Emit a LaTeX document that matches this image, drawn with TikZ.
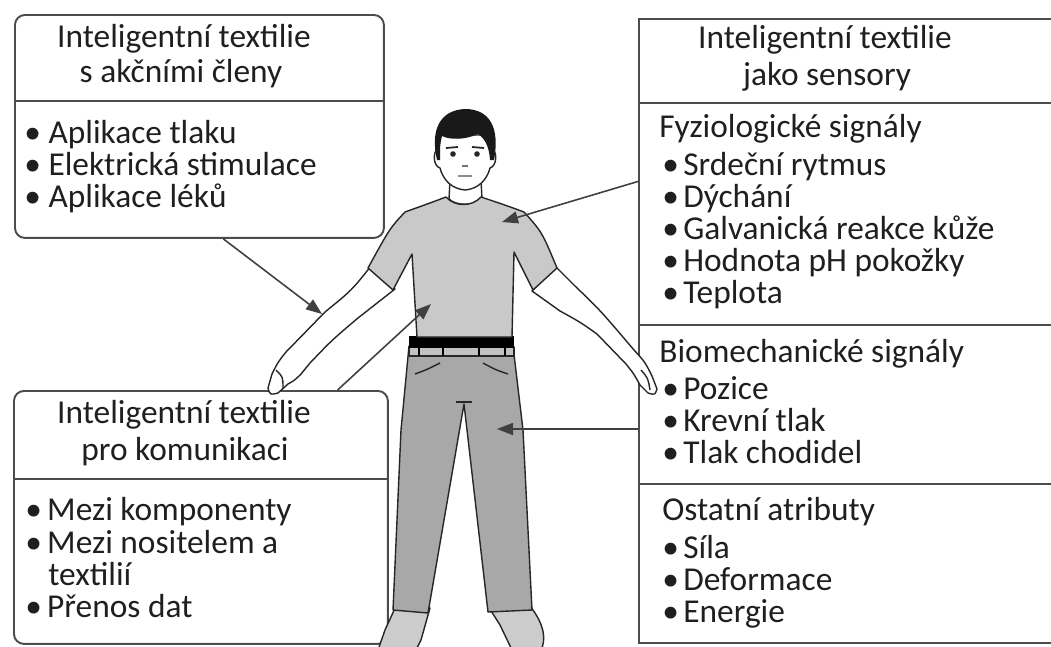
\documentclass[tikz,border=0pt]{standalone}
\usepackage{fontspec}
\setmainfont{Carlito}
\usetikzlibrary{arrows.meta}

\definecolor{shirt}{gray}{0.79}
\definecolor{trousers}{gray}{0.66}
\definecolor{shoe}{gray}{0.80}
\definecolor{ink}{gray}{0.12}

\tikzset{
  panel/.style={draw=black!70, line width=1.1pt, inner sep=0pt},
  rule/.style={draw=black!70, line width=1.1pt},
  title/.style={anchor=base, inner sep=0pt, text=ink, font=\fontsize{19}{22}\selectfont},
  entry/.style={anchor=base west, inner sep=0pt, text=ink, font=\fontsize{19}{22}\selectfont},
  outline/.style={draw=black!85, line width=0.8pt, line join=round},
  pointer/.style={draw=black!75, line width=0.9pt, -{Triangle[length=3.2mm,width=2.4mm]}},
}

\begin{document}
\begin{tikzpicture}[x=0.02cm,y=-0.02cm]
\useasboundingbox (0,0) rectangle (1051,646);

% the three panels
\node[panel, rounded corners=2mm, minimum width=7.38cm, minimum height=4.46cm, anchor=north west] (actbox) at (14,14) {};
\node[panel, rounded corners=2mm, minimum width=7.48cm, minimum height=5.06cm, anchor=north west] (commbox) at (13,390) {};
\node[panel, minimum width=8.5cm, minimum height=12.48cm, anchor=north west] (sensbox) at (638,18) {};
\draw[rule] (actbox.west |- 0,101) -- (actbox.east |- 0,101);
\draw[rule] (commbox.west |- 0,479) -- (commbox.east |- 0,479);
\foreach \y in {103,325,484}
  \draw[rule] (sensbox.west |- 0,\y) -- (sensbox.east |- 0,\y);

% actuators
\node[title] (acttitle1) at (184,47) {Inteligentní textilie};
\node[title] (acttitle2) at (181,82) {s akčními členy};
\foreach \txt [count=\i from 0] in {Aplikace tlaku, Elektrická stimulace, Aplikace léků}
  \node[entry] (act\i) at (24,143+32*\i) {\textbullet\ \txt};

% communication
\node[title] (commtitle1) at (184,423) {Inteligentní textilie};
\node[title] (commtitle2) at (185,460) {pro komunikaci};
\node[entry] (comm0) at (25,520) {\textbullet\hspace{3pt}Mezi komponenty};
\node[entry] (comm1) at (25,553) {\textbullet\hspace{3pt}Mezi nositelem a};
\node[entry] (comm2) at (48,585) {textilií};
\node[entry] (comm3) at (25,617) {\textbullet\hspace{3pt}Přenos dat};

% sensors
\node[title] (senstitle1) at (825,48) {Inteligentní textilie};
\node[title] (senstitle2) at (827,85) {jako sensory};
\node[entry] (physio) at (659,137) {Fyziologické signály};
\foreach \txt [count=\i from 0] in {Srdeční rytmus, Dýchání, Galvanická reakce kůže, Hodnota pH pokožky, Teplota}
  \node[entry] (physio\i) at (662,175+32*\i) {\textbullet\hspace{2.5pt}\txt};
\node[entry] (biomech) at (659,362) {Biomechanické signály};
\foreach \txt [count=\i from 0] in {Pozice, Krevní tlak, Tlak chodidel}
  \node[entry] (biomech\i) at (662,399+32*\i) {\textbullet\hspace{2.5pt}\txt};
\node[entry] (other) at (662,520) {Ostatní atributy};
\foreach \txt [count=\i from 0] in {Síla, Deformace, Energie}
  \node[entry] (other\i) at (662,558+32*\i) {\textbullet\hspace{2.5pt}\txt};

% figure: arms
\filldraw[outline, fill=white] (371,266) .. controls (352,290) .. (325,312) -- (286,352)
  .. controls (278,362) .. (272,374) -- (268,388) .. controls (270,395) .. (278,393)
  -- (288,384) .. controls (295,380) .. (301,374) -- (310,363)
  .. controls (332,340) .. (358,318) -- (395,289) -- cycle;
\draw[outline] (276,370) .. controls (283,377) .. (283,388);
\filldraw[outline, fill=white] (555,266) -- (575,286) .. controls (600,310) .. (634,350)
  .. controls (645,362) .. (652,376) -- (657,389) .. controls (655,395) .. (648,393)
  -- (640,385) .. controls (634,374) .. (626,364) -- (597,334)
  .. controls (580,322) .. (560,311) -- (532,291) -- cycle;
\draw[outline] (641,370) .. controls (648,378) .. (650,390);

% shoes and trousers
\filldraw[outline, fill=shoe] (396,606) -- (430,608) -- (421,640) -- (416,650) -- (378,650) -- (385,630) -- cycle;
\filldraw[outline, fill=shoe] (488,606) -- (530,606) .. controls (545,625) and (546,640) .. (541,650) -- (512,650) -- (500,625) -- cycle;
\filldraw[outline, fill=trousers] (409,346) -- (513,346) -- (523,430) -- (532,610) -- (488,612)
  -- (464,404) -- (428,613) -- (393,610) -- (401,430) -- cycle;
\draw[outline] (456,402) -- (472,402);
\draw[outline] (415,374) .. controls (426,370) .. (440,363);
\draw[outline] (483,363) .. controls (496,370) .. (508,374);
\filldraw[outline, fill=trousers!70] (409,347) rectangle (514,356);
\fill[black] (409,336) rectangle (514,348);
\foreach \x in {419,443,479,505}
  \draw[black, line width=1.3pt] (\x,346) -- (\x,356);

% neck and shirt
\filldraw[outline, fill=white] (450,180) -- (449,199) .. controls (456,206) and (474,206) .. (482,199) -- (481,180);
\filldraw[outline, fill=shirt] (446,197) .. controls (430,203) .. (405,212)
  .. controls (390,228) .. (368,268) -- (393,290) -- (412,254) -- (417,337) -- (512,337)
  -- (514,252) -- (533,290) -- (557,268) .. controls (542,232) .. (524,212)
  .. controls (505,205) .. (481,197) .. controls (472,207) and (455,207) .. cycle;

% head
\filldraw[outline, fill=white] (437,150) .. controls (433,152) and (433,166) .. (440,168)
  .. controls (443,180) and (452,189) .. (465,190) .. controls (478,189) and (487,180) .. (490,168)
  .. controls (497,166) and (497,152) .. (493,150) -- (493,135) -- (437,135) -- cycle;
\fill[black!90] (437,160) .. controls (430,130) and (440,110) .. (465,109)
  .. controls (490,109) and (500,128) .. (494,160) -- (490,160)
  .. controls (489,145) and (484,138) .. (478,134) .. controls (465,140) and (450,140) .. (442,136)
  .. controls (440,145) .. (440,160) -- cycle;
\fill[black!85] (453,154) circle (2.8) (477,154) circle (2.8);
\draw[black!85, line width=1pt] (446,148) -- (458,147) (472,147) -- (484,148);
\draw[black!55, line width=0.8pt] (462,166) -- (468,166);
\draw[black!45, line width=1.1pt] (458,176) -- (472,176);

% pointers
\coordinate (armL) at (322,314);
\coordinate (waist) at (431,304);
\coordinate (chest) at (502,222);
\coordinate (thigh) at (497,429);
\draw[pointer] (actbox.282) -- (armL);
\draw[pointer] (commbox.43) -- (waist);
\draw[pointer] (sensbox.145) -- (chest);
\draw[pointer] (sensbox.west |- thigh) -- (thigh);
\end{tikzpicture}
\end{document}
